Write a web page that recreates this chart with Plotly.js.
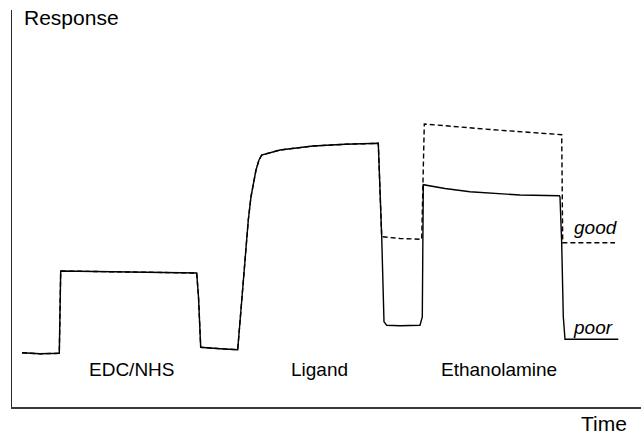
<!DOCTYPE html>
<html>
<head>
<meta charset="utf-8">
<script src="https://cdn.plot.ly/plotly-3.0.1.min.js"></script>
<style>html,body{margin:0;padding:0;background:#fff;}#chart{width:641px;height:437px;}</style>
</head>
<body>
<div id="chart"></div>
<script>
// Time values and response values (arbitrary units)
const poorTime = [22, 40, 59.3, 60.7, 130, 196.7, 198.5, 200.7, 220, 237.7,
  243, 248.3, 251, 254, 256, 259, 261.7, 280, 313, 345, 376.7,
  378.3, 381.7, 384, 386.7, 400, 420, 422.3, 423.3, 445, 470, 520, 559.3,
  560, 561.7, 563.3, 565, 618.3];
const poorResp = [54.3, 53.2, 53.7, 136, 135, 134, 110, 59.7, 58.3, 57.3,
  122, 187, 210.3, 229, 237, 247, 252, 257, 261, 262.7, 264.3,
  263.7, 170.3, 85.3, 81.7, 81.3, 81.7, 90, 222.3, 218.5, 215.3, 212, 211.3,
  210, 163.7, 90.3, 67.7, 67.7];

const goodTime = [22, 40, 59.3, 60.7, 130, 196.7, 198.5, 200.7, 220, 237.7,
  243, 248.3, 251, 254, 256, 259, 261.7, 280, 313, 345, 376.7,
  378.3, 381.7, 400, 421.7, 424.3, 490, 561.7, 562.7, 615];
const goodResp = [54.3, 53.2, 53.7, 136, 135, 134, 110, 59.7, 58.3, 57.3,
  122, 187, 210.3, 229, 237, 247, 252, 257, 261, 262.7, 264.3,
  263.7, 170.3, 168.5, 167.7, 283, 277.5, 272.3, 164.3, 164.3];

const phaseLabels = ["EDC/NHS", "Ligand", "Ethanolamine"];
const phaseLabelTime = [131.7, 319.8, 499.2];
const phaseLabelResp = [38, 38, 38];

const curveLabels = ["good", "poor"];
const curveLabelTime = [596, 593.3];
const curveLabelResp = [180, 80];

const axisTitleY = "Response";
const axisTitleX = "Time";

const traces = [
  {x: poorTime, y: poorResp, mode: 'lines', line: {color: '#000', width: 1.4}, hoverinfo: 'skip'},
  {x: goodTime, y: goodResp, mode: 'lines', line: {color: '#000', width: 1.4, dash: '5px,3px'}, hoverinfo: 'skip'}
];

const fam = 'Liberation Sans, Arial, sans-serif';
const ann = [];
phaseLabels.forEach((t, i) => ann.push({x: phaseLabelTime[i], y: phaseLabelResp[i], text: t, showarrow: false,
  xanchor: 'center', yanchor: 'middle', font: {family: fam, size: 19, color: '#000'}}));
curveLabels.forEach((t, i) => ann.push({x: curveLabelTime[i], y: curveLabelResp[i], text: '<i>' + t + '</i>', showarrow: false,
  xanchor: 'center', yanchor: 'middle', font: {family: fam, size: 19, color: '#000'}}));
ann.push({x: 22, y: 389.5, text: axisTitleY, showarrow: false, xanchor: 'left', yanchor: 'middle',
  font: {family: fam, size: 21, color: '#000'}});
ann.push({x: 628.5, xref: 'x', y: -29.5 / 397, yref: 'paper', text: axisTitleX, showarrow: false, xanchor: 'right', yanchor: 'bottom',
  font: {family: fam, size: 21, color: '#000'}});

const layout = {
  width: 641, height: 437,
  margin: {l: 12, r: 0, t: 10, b: 30, pad: 0},
  paper_bgcolor: '#fff', plot_bgcolor: '#fff',
  showlegend: false,
  xaxis: {range: [12, 641], showgrid: false, zeroline: false, showticklabels: false, ticks: '',
    showline: true, linecolor: '#3a3a3a', linewidth: 1.5, fixedrange: true},
  yaxis: {range: [0, 397], showgrid: false, zeroline: false, showticklabels: false, ticks: '',
    showline: true, linecolor: '#2a2a2a', linewidth: 1.5, fixedrange: true},
  annotations: ann
};

Plotly.newPlot('chart', traces, layout, {staticPlot: true, displayModeBar: false});
</script>
</body>
</html>
